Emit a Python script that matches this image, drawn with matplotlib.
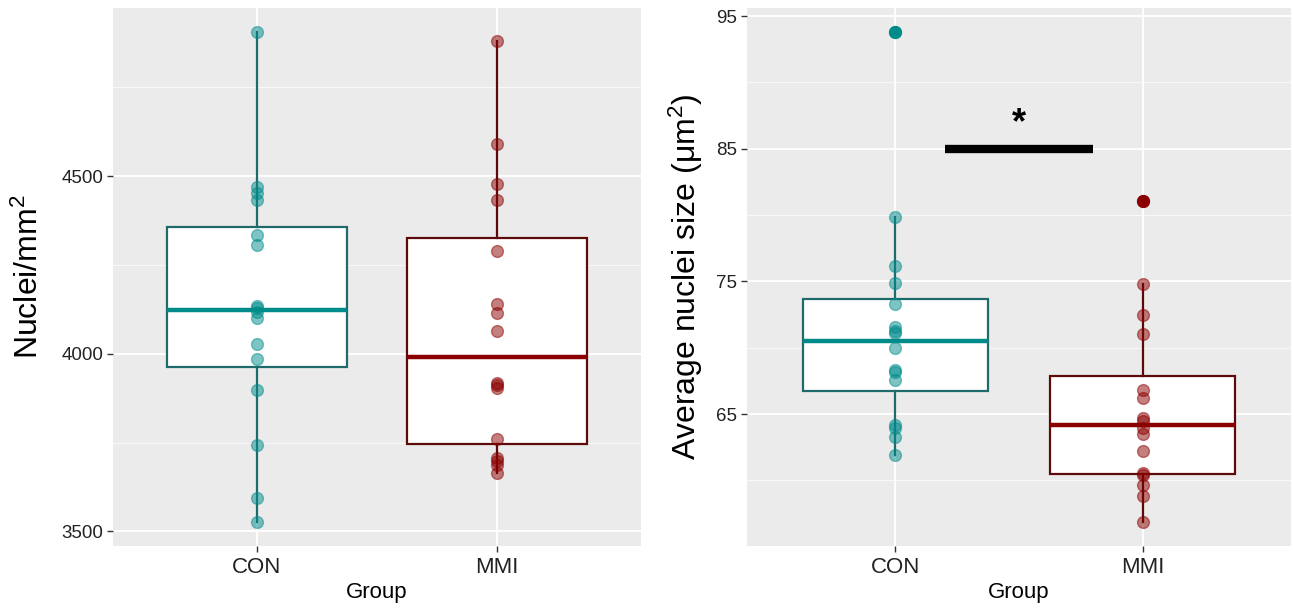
import numpy as np
import matplotlib
matplotlib.use("Agg")
from matplotlib import pyplot as plt

plt.rcParams['font.family'] = ['Liberation Sans', 'DejaVu Sans']
plt.rcParams['mathtext.default'] = 'regular'

groups = ['CON', 'MMI']

# nuclei density per group (nuclei / mm^2)
density_con = [3528, 3593, 3742, 3899, 3984, 4027, 4100, 4118, 4130, 4135,
               4305, 4333, 4432, 4451, 4470, 4904]
density_mmi = [3664, 3686, 3698, 3707, 3760, 3905, 3911, 3917, 4063, 4114,
               4140, 4289, 4433, 4478, 4591, 4881]

# average nuclei size per group (um^2)
size_con = [61.95, 63.26, 63.96, 64.17, 67.6, 68.2, 68.31, 69.95, 71.08, 71.29,
            71.54, 73.31, 74.87, 76.14, 79.87, 93.77]
size_mmi = [56.9, 58.79, 59.62, 60.4, 60.56, 62.2, 63.51, 63.96, 64.47, 64.72,
            66.24, 66.82, 71.06, 72.5, 74.77, 81.08]

density_ticks = [3500, 4000, 4500]
density_minor = [3750, 4250, 4750]
size_ticks = [65, 75, 85, 95]
size_minor = [60, 70, 80, 90]

sig_level = 85
sig_star_y = 87.2

pt_col = ['#008B8B', '#8B0000']
edge_col = ['#1F6B6B', '#5C0A0A']

fig = plt.figure(figsize=(12.94, 6.08), dpi=100)
ax1 = fig.add_axes([113/1294, 62/608, 528/1294, 538/608])
ax2 = fig.add_axes([747/1294, 62/608, 544/1294, 538/608])


def panel(ax, data, ticks, minor, ylabel, pad):
    ax.set_facecolor('#EBEBEB')
    for s in ax.spines.values():
        s.set_visible(False)
    lo = min(min(d) for d in data)
    hi = max(max(d) for d in data)
    ex = (hi - lo) * 0.05
    ax.set_ylim(lo - ex, hi + ex)
    ax.set_xlim(-0.6, 1.6)
    for m in minor:
        ax.axhline(m, color='white', lw=0.6, alpha=0.8, zorder=0)
    for t in ticks:
        ax.axhline(t, color='white', lw=1.4, zorder=0)
    for i in range(2):
        ax.axvline(i, color='white', lw=1.4, zorder=0)
    for i, d in enumerate(data):
        ax.boxplot([d], positions=[i], widths=0.75, whis=1.5, showcaps=False,
                   patch_artist=True,
                   boxprops=dict(facecolor='white', edgecolor=edge_col[i], lw=1.6),
                   whiskerprops=dict(color=edge_col[i], lw=1.6),
                   medianprops=dict(color=pt_col[i], lw=3.2),
                   flierprops=dict(marker='o', markerfacecolor=pt_col[i],
                                   markeredgecolor=pt_col[i], markersize=8.5),
                   zorder=2)
        ax.plot(np.full(len(d), i), d, 'o', ms=8.5, mfc=pt_col[i], mec=pt_col[i],
                alpha=0.5, mew=1, ls='none', zorder=3)
    ax.set_yticks(ticks)
    ax.set_xticks([0, 1])
    ax.set_xticklabels(groups)
    ax.tick_params(axis='x', labelsize=16, colors='#333333', labelcolor='#222222',
                   length=4, width=1, pad=4)
    ax.tick_params(axis='y', labelsize=13.5, colors='#333333', labelcolor='#222222',
                   length=4, width=1, pad=3)
    ax.set_xlabel('Group', fontsize=16, labelpad=3)
    ax.set_ylabel(ylabel, fontsize=23, labelpad=pad)


panel(ax1, [density_con, density_mmi], density_ticks, density_minor,
      'Nuclei/mm$^2$', 12)
panel(ax2, [size_con, size_mmi], size_ticks, size_minor,
      'Average nuclei size (μm$^2$)', 8)

# significance bar between the two groups
ax2.plot([0.2, 0.8], [sig_level, sig_level], color='black', lw=6,
         solid_capstyle='butt', zorder=4)
ax2.text(0.5, sig_star_y, '*', ha='center', va='center_baseline', fontsize=26,
         fontweight='bold', zorder=4)

fig.savefig('out.png', dpi=100)
